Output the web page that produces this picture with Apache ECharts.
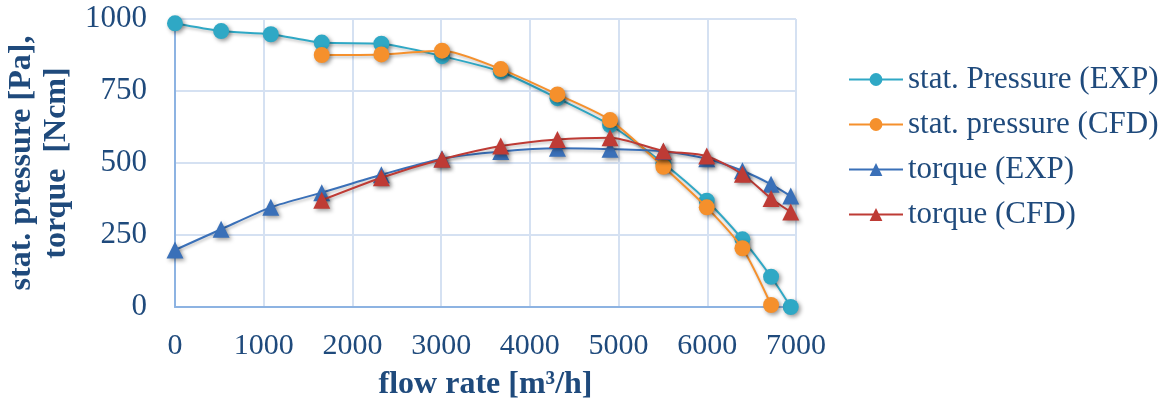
<!DOCTYPE html>
<html>
<head>
<meta charset="utf-8">
<script src="https://cdn.jsdelivr.net/npm/echarts@6/dist/echarts.min.js"></script>
<style>
html,body{margin:0;padding:0;background:#fff;}
#chart{width:1170px;height:403px;}
</style>
</head>
<body>
<div id="chart"></div>
<script>
var seriesNames = ['stat. Pressure (EXP)', 'stat. pressure (CFD)', 'torque (EXP)', 'torque (CFD)'];
var xTicks = [0, 1000, 2000, 3000, 4000, 5000, 6000, 7000];
var yTicks = [0, 250, 500, 750, 1000];

var flowExp = [0, 520, 1080, 1654, 2326, 3010, 3672, 4311, 4904, 5505, 5994, 6396, 6719, 6941];
var pressureExp = [985, 958, 947, 918, 914, 871, 817, 725, 632, 499, 369, 235, 105, 0];
var torqueExp = [198, 270, 346, 397, 459, 515, 540, 551, 548, 540, 515, 473, 426, 385];

var flowCfdP = [1654, 2326, 3010, 3672, 4311, 4904, 5505, 5994, 6396, 6719];
var pressureCfd = [875, 877, 890, 826, 738, 649, 487, 346, 204, 7];

var flowCfdT = [1654, 2326, 3010, 3672, 4311, 4904, 5505, 5994, 6396, 6719, 6941];
var torqueCfd = [371, 449, 513, 559, 582, 588, 542, 524, 461, 377, 330];

var colors = ['#2FA8C5', '#F5902C', '#3A70B8', '#BE3B35'];
var textColor = '#1F4A7C';
var font = '"Liberation Serif", "Times New Roman", serif';

function pairs(xs, ys) {
  return xs.map(function (x, i) { return [x, ys[i]]; });
}

function mkSeries(idx, xs, ys, symbol) {
  return {
    name: seriesNames[idx],
    type: 'line',
    data: pairs(xs, ys),
    smooth: 0.25,
    symbol: symbol,
    symbolSize: symbol === 'triangle' ? 17 : 16,
    showSymbol: true,
    color: colors[idx],
    lineStyle: {
      width: 2,
      color: colors[idx],
      shadowBlur: 3,
      shadowColor: 'rgba(0,0,0,0.25)',
      shadowOffsetX: 1,
      shadowOffsetY: 2
    },
    itemStyle: {
      color: colors[idx],
      borderWidth: 0,
      shadowBlur: 4,
      shadowColor: 'rgba(0,0,0,0.4)',
      shadowOffsetX: 2,
      shadowOffsetY: 2
    },
    emphasis: { disabled: true },
    animation: false,
    z: 2 + idx
  };
}

var chart = echarts.init(document.getElementById('chart'));
chart.setOption({
  backgroundColor: '#ffffff',
  animation: false,
  grid: { left: 175, right: 374, top: 19, bottom: 96, containLabel: false, outerBoundsMode: 'none' },
  legend: {
    orient: 'vertical',
    left: 843,
    top: 59,
    itemWidth: 54,
    itemHeight: 16,
    itemGap: 14,
    data: seriesNames,
    textStyle: { fontFamily: font, fontSize: 31, color: textColor, lineHeight: 30 }
  },
  xAxis: {
    type: 'value',
    min: 0,
    max: 7000,
    interval: 1000,
    name: 'flow rate [m³/h]',
    nameLocation: 'middle',
    nameGap: 62,
    nameTextStyle: { fontFamily: font, fontSize: 32, fontWeight: 'bold', color: textColor },
    axisLine: { show: true, lineStyle: { color: '#8DB3E2', width: 2 } },
    axisTick: { show: false },
    splitLine: { show: true, lineStyle: { color: '#D5E1F2', width: 2 } },
    axisLabel: {
      fontFamily: font, fontSize: 30, color: textColor, margin: 24,
      formatter: function (v) { return xTicks.indexOf(v) >= 0 ? String(v) : ''; }
    }
  },
  yAxis: {
    type: 'value',
    min: 0,
    max: 1000,
    interval: 250,
    name: 'stat. pressure [Pa],\ntorque  [Ncm]',
    nameLocation: 'middle',
    nameGap: 95,
    nameRotate: 90,
    nameTextStyle: { fontFamily: font, fontSize: 32, fontWeight: 'bold', color: textColor, lineHeight: 35 },
    axisLine: { show: true, lineStyle: { color: '#8DB3E2', width: 2 } },
    axisTick: { show: false },
    splitLine: { show: true, lineStyle: { color: '#D5E1F2', width: 2 } },
    axisLabel: {
      fontFamily: font, fontSize: 31, color: textColor, margin: 28,
      formatter: function (v) { return yTicks.indexOf(v) >= 0 ? String(v) : ''; }
    }
  },
  series: [
    mkSeries(0, flowExp, pressureExp, 'circle'),
    mkSeries(1, flowCfdP, pressureCfd, 'circle'),
    mkSeries(2, flowExp, torqueExp, 'triangle'),
    mkSeries(3, flowCfdT, torqueCfd, 'triangle')
  ]
});
</script>
</body>
</html>
